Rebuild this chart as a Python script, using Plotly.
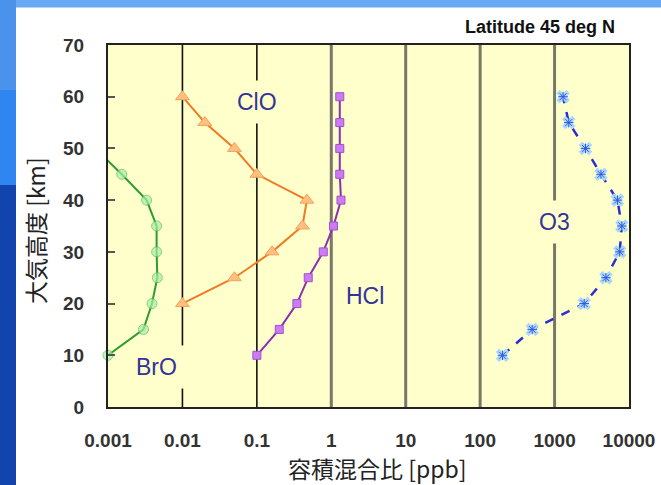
import math
import plotly.graph_objects as go

# ---------------- data ----------------
x_tick_vals = [0.001, 0.01, 0.1, 1, 10, 100, 1000, 10000]
x_tick_text = ["0.001", "0.01", "0.1", "1", "10", "100", "1000", "10000"]
y_tick_vals = [0, 10, 20, 30, 40, 50, 60, 70]

grid_thin = [0.01, 0.1]
grid_thick = [1, 10, 100, 1000]

bro_alt = [10, 15, 20, 25, 30, 35, 40, 45, 50]
bro_val = [0.001, 0.003, 0.0039, 0.0046, 0.0045, 0.0045, 0.0033, 0.00153, 0.00067]

clo_alt = [20, 25, 30, 35, 40, 45, 50, 55, 60]
clo_val = [0.01, 0.05, 0.16, 0.41, 0.47, 0.1, 0.05, 0.02, 0.01]

hcl_alt = [10, 15, 20, 25, 30, 35, 40, 45, 50, 55, 60]
hcl_val = [0.1, 0.2, 0.345, 0.49, 0.78, 1.07, 1.35, 1.3, 1.3, 1.3, 1.3]

o3_alt = [10, 15, 20, 25, 30, 35, 40, 45, 50, 55, 60]
o3_val = [200, 500, 2500, 4900, 7500, 8000, 7000, 4200, 2600, 1550, 1300]

series_labels = ["BrO", "ClO", "HCl", "O3"]
label_pos = [(0.0045, 7.7), (0.1, 58.9), (2.8, 21.5), (1000, 35.7)]

title_text = "Latitude 45 deg N"
x_title = "容積混合比 [ppb]"
y_title = "大気高度 [km]"

# ---------------- layout constants ----------------
W, H = 661, 485
L, R, T, B = 108, 629, 45, 407
PW, PH = R - L, B - T


def px_x(p):
    return (p - L) / PW


def px_y(p):
    return (B - p) / PH


NUM_FONT = "Liberation Sans, Arial, sans-serif"
CJK_FONT = "Noto Sans CJK JP, sans-serif"
LABEL_COLOR = "#333399"

fig = go.Figure()

# grid lines as traces
for v in grid_thin:
    fig.add_trace(go.Scatter(x=[v, v], y=[y_tick_vals[0], y_tick_vals[-1]], mode="lines",
                             line=dict(color="#111111", width=1.6), hoverinfo="skip",
                             showlegend=False))
for v in grid_thick:
    fig.add_trace(go.Scatter(x=[v, v], y=[y_tick_vals[0], y_tick_vals[-1]], mode="lines",
                             line=dict(color="#77776a", width=3), hoverinfo="skip",
                             showlegend=False))

# BrO
bro_sizes = [10] * (len(bro_val) - 1) + [0]
fig.add_trace(go.Scatter(x=bro_val, y=bro_alt, mode="lines+markers", cliponaxis=False,
                         line=dict(color="#2f9a2f", width=2),
                         marker=dict(symbol="circle", size=bro_sizes, color="#a6eea6",
                                     line=dict(color="#55bb55", width=1)),
                         showlegend=False))
# ClO
fig.add_trace(go.Scatter(x=clo_val, y=clo_alt, mode="lines+markers", cliponaxis=False,
                         line=dict(color="#f07a22", width=2),
                         marker=dict(symbol="triangle-up", size=12, color="#ffbf80",
                                     line=dict(color="#f5a05a", width=1)),
                         showlegend=False))
# HCl
fig.add_trace(go.Scatter(x=hcl_val, y=hcl_alt, mode="lines+markers", cliponaxis=False,
                         line=dict(color="#8a2fb0", width=2),
                         marker=dict(symbol="square", size=8, color="#cc7cf0",
                                     line=dict(color="#a050d0", width=1)),
                         showlegend=False))
# O3
fig.add_trace(go.Scatter(x=o3_val, y=o3_alt, mode="lines", cliponaxis=False,
                         line=dict(color="#2b2fd0", width=2.5, dash="dash"),
                         showlegend=False))
fig.add_trace(go.Scatter(x=o3_val, y=o3_alt, mode="markers", cliponaxis=False,
                         marker=dict(symbol="x", size=12, color="#a8d8ff",
                                     line=dict(color="#a8d8ff", width=0)),
                         showlegend=False))
fig.add_trace(go.Scatter(x=o3_val, y=o3_alt, mode="markers", cliponaxis=False,
                         marker=dict(symbol="asterisk-open", size=8, color="#3355dd",
                                     line=dict(color="#3355dd", width=1)),
                         showlegend=False))

annotations = []
for txt, (lx, ly) in zip(series_labels, label_pos):
    annotations.append(dict(x=math.log10(lx), y=ly, xref="x", yref="y",
                            text=txt, showarrow=False, bgcolor="#ffffcc", borderpad=8,
                            font=dict(family=NUM_FONT, size=23, color=LABEL_COLOR)))

annotations.append(dict(x=px_x(617), y=px_y(27), xref="paper", yref="paper",
                        xanchor="right", yanchor="middle", text=title_text, showarrow=False,
                        font=dict(family=NUM_FONT, size=18, color="#111111", weight="bold")))
annotations.append(dict(x=px_x(377), y=px_y(468), xref="paper", yref="paper",
                        xanchor="center", yanchor="middle", text=x_title, showarrow=False,
                        font=dict(family=CJK_FONT, size=23, color="#222222")))
annotations.append(dict(x=px_x(35), y=px_y(231), xref="paper", yref="paper",
                        xanchor="center", yanchor="middle", text=y_title, showarrow=False,
                        textangle=-90,
                        font=dict(family=CJK_FONT, size=23, color="#222222")))

shapes = [
    # blue desktop background strips
    dict(type="rect", xref="paper", yref="paper", x0=px_x(0), x1=px_x(W), y0=px_y(0), y1=px_y(7.5),
         fillcolor="#68a8f4", line=dict(width=0), layer="below"),
    dict(type="rect", xref="paper", yref="paper", x0=px_x(0), x1=px_x(16), y0=px_y(0), y1=px_y(90),
         fillcolor="#4a92ec", line=dict(width=0), layer="below"),
    dict(type="rect", xref="paper", yref="paper", x0=px_x(0), x1=px_x(16), y0=px_y(90), y1=px_y(185),
         fillcolor="#2f86f0", line=dict(width=0), layer="below"),
    dict(type="rect", xref="paper", yref="paper", x0=px_x(0), x1=px_x(16), y0=px_y(185), y1=px_y(H),
         fillcolor="#1244ae", line=dict(width=0), layer="below"),
]

fig.update_layout(
    width=W, height=H,
    margin=dict(l=L, r=W - R, t=T, b=H - B, autoexpand=False),
    paper_bgcolor="white",
    plot_bgcolor="#ffffcc",
    showlegend=False,
    annotations=annotations,
    shapes=shapes,
    xaxis=dict(type="log", range=[-3, 4], tickvals=x_tick_vals, ticktext=x_tick_text,
               showgrid=False, zeroline=False, ticks="", showline=True, mirror=True,
               linecolor="#222222", linewidth=2, ticklabelstandoff=15,
               tickfont=dict(family=NUM_FONT, size=19, color="#333333", weight="bold")),
    yaxis=dict(range=[0, 70], tickvals=y_tick_vals, showgrid=False, zeroline=False,
               ticks="inside", ticklen=7, tickwidth=2, tickcolor="#555555",
               showline=True, mirror=True, linecolor="#222222", linewidth=2,
               ticklabelstandoff=18,
               tickfont=dict(family=NUM_FONT, size=19, color="#333333", weight="bold")),
)

fig.write_html("out.html", config={"displayModeBar": False},
               post_script="document.body.style.margin='0';document.body.style.padding='0';")
